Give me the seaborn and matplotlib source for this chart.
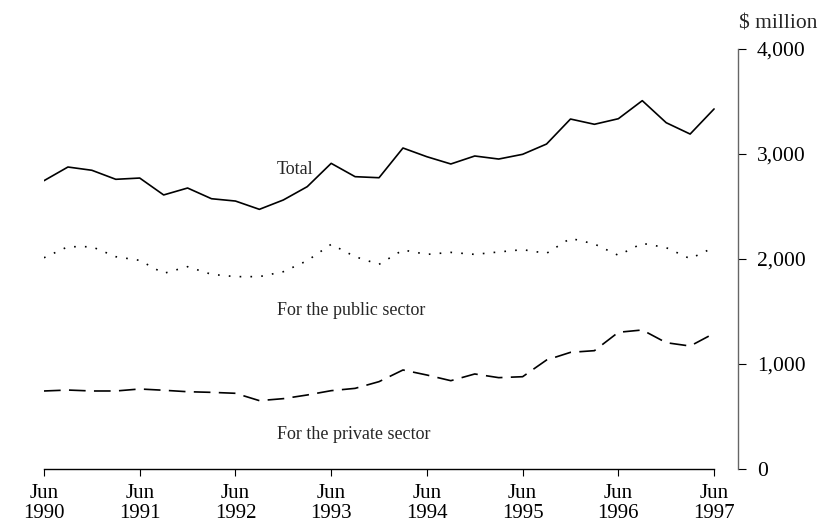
import numpy as np
import pandas as pd
import matplotlib
matplotlib.use("Agg")
import matplotlib.pyplot as plt
import seaborn as sns

# Quarterly values, Jun 1990 .. Jun 1997 ($ million)
quarters = pd.period_range("1990Q2", "1997Q2", freq="Q")
total = [2746, 2876, 2845, 2759, 2771, 2610, 2676, 2574, 2552, 2473,
         2562, 2689, 2911, 2784, 2774, 3057, 2974, 2905, 2981, 2952,
         2997, 3095, 3333, 3283, 3336, 3508, 3298, 3190, 3429]
public = [2012, 2117, 2117, 2022, 1987, 1863, 1927, 1854, 1832, 1832,
          1879, 1984, 2140, 2022, 1949, 2086, 2044, 2063, 2044, 2067,
          2089, 2054, 2197, 2143, 2035, 2149, 2108, 2003, 2111]
private = [743, 752, 743, 743, 762, 750, 736, 730, 721, 651,
           670, 705, 746, 768, 832, 943, 895, 841, 905, 870,
           879, 1038, 1111, 1127, 1302, 1324, 1203, 1171, 1292]

tick_labels = ["Jun\n1990", "Jun\n1991", "Jun\n1992", "Jun\n1993",
               "Jun\n1994", "Jun\n1995", "Jun\n1996", "Jun\n1997"]
y_ticks = [0, 1000, 2000, 3000, 4000]

df = pd.DataFrame({"q": np.arange(len(quarters)), "total": total,
                   "public": public, "private": private})

sns.set_style("white")
plt.rcParams["font.family"] = ["Liberation Serif", "DejaVu Serif"]

fig = plt.figure(figsize=(8.21, 5.32), dpi=100)
ax = fig.add_axes([44 / 821, 1 - 469 / 532, (738 - 44) / 821, (469 - 49) / 532])

sns.lineplot(data=df, x="q", y="total", ax=ax, color="black", linewidth=1.2)
sns.lineplot(data=df, x="q", y="public", ax=ax, color="black", linewidth=1.2,
             linestyle=(0, (1, 5.5)))
sns.lineplot(data=df, x="q", y="private", ax=ax, color="black", linewidth=1.2,
             linestyle=(0, (10, 5)))

ax.set_xlim(0, 29)
ax.set_ylim(0, 4000)
ax.set_xlabel("")
ax.set_ylabel("")

# x axis: ticks every June
ax.set_xticks(np.arange(0, 29, 4))
ax.set_xticklabels(tick_labels, fontsize=15, linespacing=1.05)
ax.tick_params(axis="x", direction="out", length=5, width=0.8, pad=6,
               colors="black", bottom=True)

# y axis on the right
ax.yaxis.tick_right()
ax.set_yticks(y_ticks)
ax.set_yticklabels([f"{v:,}" for v in y_ticks], fontsize=15.5)
ax.tick_params(axis="y", direction="out", length=5.5, width=0.8, pad=8,
               colors="black", left=False, right=True)

for side in ["top", "left"]:
    ax.spines[side].set_visible(False)
ax.spines["bottom"].set_bounds(0, 28)
ax.spines["bottom"].set_color("black")
ax.spines["bottom"].set_linewidth(1.0)
ax.spines["right"].set_color("#666666")
ax.spines["right"].set_linewidth(1.0)

# series labels
ax.text(9.72, 2848, "Total", fontsize=13, va="center", ha="left")
ax.text(9.72, 1514, "For the public sector", fontsize=13, va="center", ha="left")
ax.text(9.72, 333, "For the private sector", fontsize=13, va="center", ha="left")

fig.text(739 / 821, 1 - 24 / 532, "$ million", fontsize=15.5, va="center", ha="left")

fig.savefig("out.png", dpi=100)
